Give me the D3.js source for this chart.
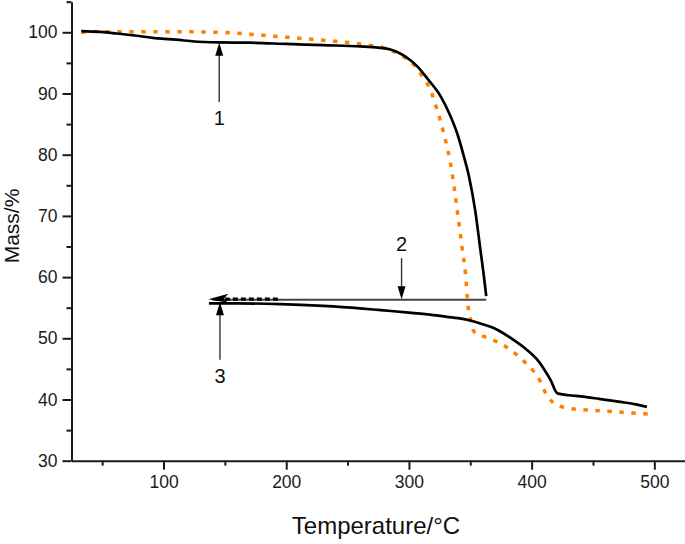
<!DOCTYPE html>
<html>
<head>
<meta charset="utf-8">
<script src="https://cdn.jsdelivr.net/npm/d3@7"></script>
<style>
  html, body { margin: 0; padding: 0; background: #fff; }
  svg { display: block; font-family: "Liberation Sans", Arial, sans-serif; }
</style>
</head>
<body>
<svg id="chart" width="685" height="544"></svg>
<script>
// ---- data ----
const heatBlackT = [33, 45, 62, 80, 95, 110, 125, 145, 170, 200, 230, 260, 275, 285, 296, 307, 316, 326, 333, 339.3, 344, 349, 354, 358.3, 361, 363];
const heatBlackM = [100.2, 100.1, 99.8, 99.4, 99.0, 98.8, 98.5, 98.35, 98.3, 98.1, 97.9, 97.7, 97.5, 97.2, 96.2, 94.4, 92.2, 89.5, 86.7, 83.5, 80.3, 76.4, 70.9, 64.4, 60.3, 56.9];

const orangeT = [33, 50, 75, 100, 145, 170, 200, 230, 260, 285, 295, 304, 311, 317.5, 323, 328.4, 335.2, 339.3, 343.4, 346.1, 348, 350, 353, 360, 372, 380, 388, 395, 402, 407, 410, 414, 418, 423, 429, 445, 467, 482, 496];
const orangeM = [100, 100.1, 100.1, 100.1, 100, 99.7, 99.2, 98.7, 98.1, 97.1, 96.1, 94.7, 92.8, 90.6, 87.3, 83.5, 77.0, 71.0, 64.7, 60.6, 55.5, 53.2, 51.1, 50.4, 49.4, 48.5, 47.3, 46.0, 44.5, 43, 41.6, 40.3, 39.4, 38.9, 38.6, 38.3, 38.0, 37.8, 37.6];

const secondT = [137, 160, 195, 230, 260, 277, 300, 320, 331, 340, 350, 360, 366.5, 372, 385.5, 395, 404.6, 410, 415.4, 421, 430, 440, 455, 472.5, 485, 494];
const secondM = [55.7, 55.7, 55.6, 55.3, 54.9, 54.6, 54.2, 53.8, 53.5, 53.3, 52.9, 52.3, 51.9, 51.4, 49.7, 48.3, 46.5, 45.0, 43.2, 41.0, 40.7, 40.5, 40.1, 39.6, 39.2, 38.8];

const dashedT = [150, 194];
const dashedM = [56.4, 56.4];

// horizontal arrow (annotation 2 baseline)
const hArrowT = [136.5, 363];
const hArrowM = 56.3;

// vertical arrows: x, from mass, to mass (tip), label, label baseline mass
const arrowLabels = ["1", "2", "3"];
const arrowT = [145.4, 294, 146];
const arrowFromM = [88.6, 63.1, 46.5];
const arrowToM = [98.3, 56.4, 55.9];
const labelM = [84.9, 64.3, 42.7];

const xTicks = [100, 200, 300, 400, 500];
const xMinor = [50, 150, 250, 350, 450];
const yTicks = [30, 40, 50, 60, 70, 80, 90, 100];
const yMinor = [35, 45, 55, 65, 75, 85, 95, 105];

// ---- layout ----
const svg = d3.select("#chart");
const x = d3.scaleLinear().domain([25, 525]).range([71.5, 685]);
const y = d3.scaleLinear().domain([30, 105]).range([460.7, 1.7]);

const axisColor = "#1a1a1a";

// axes
const gx = svg.append("g").attr("transform", `translate(0,${y(30)})`);
gx.call(d3.axisBottom(x).tickValues(xTicks).tickSize(9).tickSizeOuter(0).tickPadding(6).tickFormat(d3.format("d")));
const gxm = svg.append("g").attr("transform", `translate(0,${y(30)})`);
gxm.call(d3.axisBottom(x).tickValues(xMinor).tickSize(5).tickSizeOuter(0).tickFormat(""));

const gy = svg.append("g").attr("transform", `translate(${x(25)},0)`);
gy.call(d3.axisLeft(y).tickValues(yTicks).tickSize(9).tickSizeOuter(0).tickPadding(5).tickFormat(d3.format("d")));
const gym = svg.append("g").attr("transform", `translate(${x(25)},0)`);
gym.call(d3.axisLeft(y).tickValues(yMinor).tickSize(5).tickSizeOuter(0).tickFormat(""));

svg.selectAll(".domain").attr("stroke", axisColor).attr("stroke-width", 2);
svg.selectAll(".tick line").attr("stroke", axisColor).attr("stroke-width", 2);
svg.selectAll(".tick text").attr("fill", "#1a1a1a").style("font-size", "17.5px").style("font-family", "'Liberation Sans', Arial, sans-serif");
gxm.select(".domain").remove();
gym.select(".domain").remove();

// axis titles
svg.append("text")
  .attr("x", 376).attr("y", 534)
  .attr("text-anchor", "middle")
  .style("font-size", "24px").attr("fill", "#111")
  .text("Temperature/°C");
svg.append("text")
  .attr("transform", `translate(19,226) rotate(-90)`)
  .attr("text-anchor", "middle")
  .style("font-size", "21px").attr("fill", "#111")
  .text("Mass/%");

const line = d3.line().x(d => x(d[0])).y(d => y(d[1])).curve(d3.curveMonotoneX);

// horizontal grey arrow line
svg.append("line")
  .attr("x1", x(hArrowT[0]) + 4).attr("x2", x(hArrowT[1]))
  .attr("y1", y(hArrowM)).attr("y2", y(hArrowM))
  .attr("stroke", "#444").attr("stroke-width", 2);

// orange dotted heating curve
svg.append("path")
  .datum(orangeT.map((t, i) => [t, orangeM[i]]))
  .attr("d", line)
  .attr("fill", "none").attr("stroke", "#ff8000")
  .attr("stroke-width", 3.5).attr("stroke-dasharray", "4.5,7.5");

// black heating curve
svg.append("path")
  .datum(heatBlackT.map((t, i) => [t, heatBlackM[i]]))
  .attr("d", line)
  .attr("fill", "none").attr("stroke", "#000").attr("stroke-width", 2.7);

// black second segment
svg.append("path")
  .datum(secondT.map((t, i) => [t, secondM[i]]))
  .attr("d", line)
  .attr("fill", "none").attr("stroke", "#000").attr("stroke-width", 2.7);

// dashed black segment
svg.append("path")
  .datum(dashedT.map((t, i) => [t, dashedM[i]]))
  .attr("d", line)
  .attr("fill", "none").attr("stroke", "#000").attr("stroke-width", 3.2)
  .attr("stroke-dasharray", "5,3");

// left arrowhead of horizontal arrow
const tipX = x(hArrowT[0]), tipY = y(hArrowM) - 0.5;
svg.append("path")
  .attr("d", `M${tipX},${tipY} L${tipX + 20},${tipY - 5.5} L${tipX + 15},${tipY} L${tipX + 20},${tipY + 3.5} Z`)
  .attr("fill", "#000");

// vertical arrows
arrowLabels.forEach((lab, i) => {
  const ax = x(arrowT[i]);
  const y0 = y(arrowFromM[i]);
  const y1 = y(arrowToM[i]);
  const dir = y1 < y0 ? 1 : -1; // 1 = points up
  const headLen = 13, headW = 4;
  svg.append("line")
    .attr("x1", ax).attr("x2", ax)
    .attr("y1", y0).attr("y2", y1 + dir * headLen * 0.8)
    .attr("stroke", "#333").attr("stroke-width", 1.4);
  svg.append("path")
    .attr("d", `M${ax},${y1} L${ax - headW},${y1 + dir * headLen} L${ax + headW},${y1 + dir * headLen} Z`)
    .attr("fill", "#000");
  svg.append("text")
    .attr("x", ax).attr("y", y(labelM[i]))
    .attr("text-anchor", "middle")
    .style("font-size", "20px").attr("fill", "#111")
    .text(lab);
});
</script>
</body>
</html>
